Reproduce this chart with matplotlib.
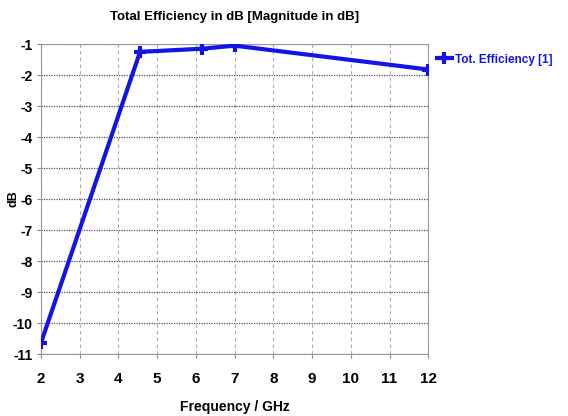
import matplotlib.pyplot as plt

# Values
freq_ghz = [2.0, 4.56, 6.15, 7.0, 12.0]
efficiency_db = [-10.65, -1.25, -1.15, -1.05, -1.82]
x_ticks = [2, 3, 4, 5, 6, 7, 8, 9, 10, 11, 12]
y_ticks = [-1, -2, -3, -4, -5, -6, -7, -8, -9, -10, -11]

plt.rcParams['font.family'] = ['Liberation Sans', 'DejaVu Sans']
plt.rcParams['axes.unicode_minus'] = False

blue = "#1414e6"

fig = plt.figure(figsize=(5.68, 4.16), dpi=100)
ax = fig.add_axes([0.072, 0.149, 0.682, 0.745])

ax.plot(freq_ghz, efficiency_db, color=blue, linewidth=3, marker='+',
        markersize=9, markeredgewidth=3, label="Tot. Efficiency [1]", zorder=3)

ax.set_xlim(2, 12)
ax.set_ylim(-11, -1)
ax.set_xticks(x_ticks)
ax.set_yticks(y_ticks)
ax.tick_params(axis='both', length=3, color="#888888")
ax.tick_params(axis='y', pad=3, labelsize=10)
ax.tick_params(axis='x', pad=10, labelsize=11)
for lab in ax.get_xticklabels() + ax.get_yticklabels():
    lab.set_fontweight("bold")

# grid: dotted horizontal, dashed vertical
ax.yaxis.grid(True, linestyle=(0, (1, 1)), color="#555555", linewidth=0.9)
ax.xaxis.grid(True, linestyle=(0, (3, 3)), color="#aaaaaa", linewidth=0.8)
for s in ax.spines.values():
    s.set_color("#999999")

ax.set_title("Total Efficiency in dB [Magnitude in dB]", fontsize=9.5,
             fontweight="bold", pad=17)
ax.set_xlabel("Frequency / GHz", fontsize=10, fontweight="bold", labelpad=10)
ax.set_ylabel("dB", fontsize=9, fontweight="bold")
ax.yaxis.set_label_coords(-0.056, 0.5)

leg = ax.legend(loc="center left", bbox_to_anchor=(1.0, 0.95), frameon=False,
                handlelength=1.3, handletextpad=0.3, borderaxespad=0.3,
                prop={"size": 8.5, "weight": "bold"})
for t in leg.get_texts():
    t.set_color(blue)

fig.savefig("out.png", dpi=100)
